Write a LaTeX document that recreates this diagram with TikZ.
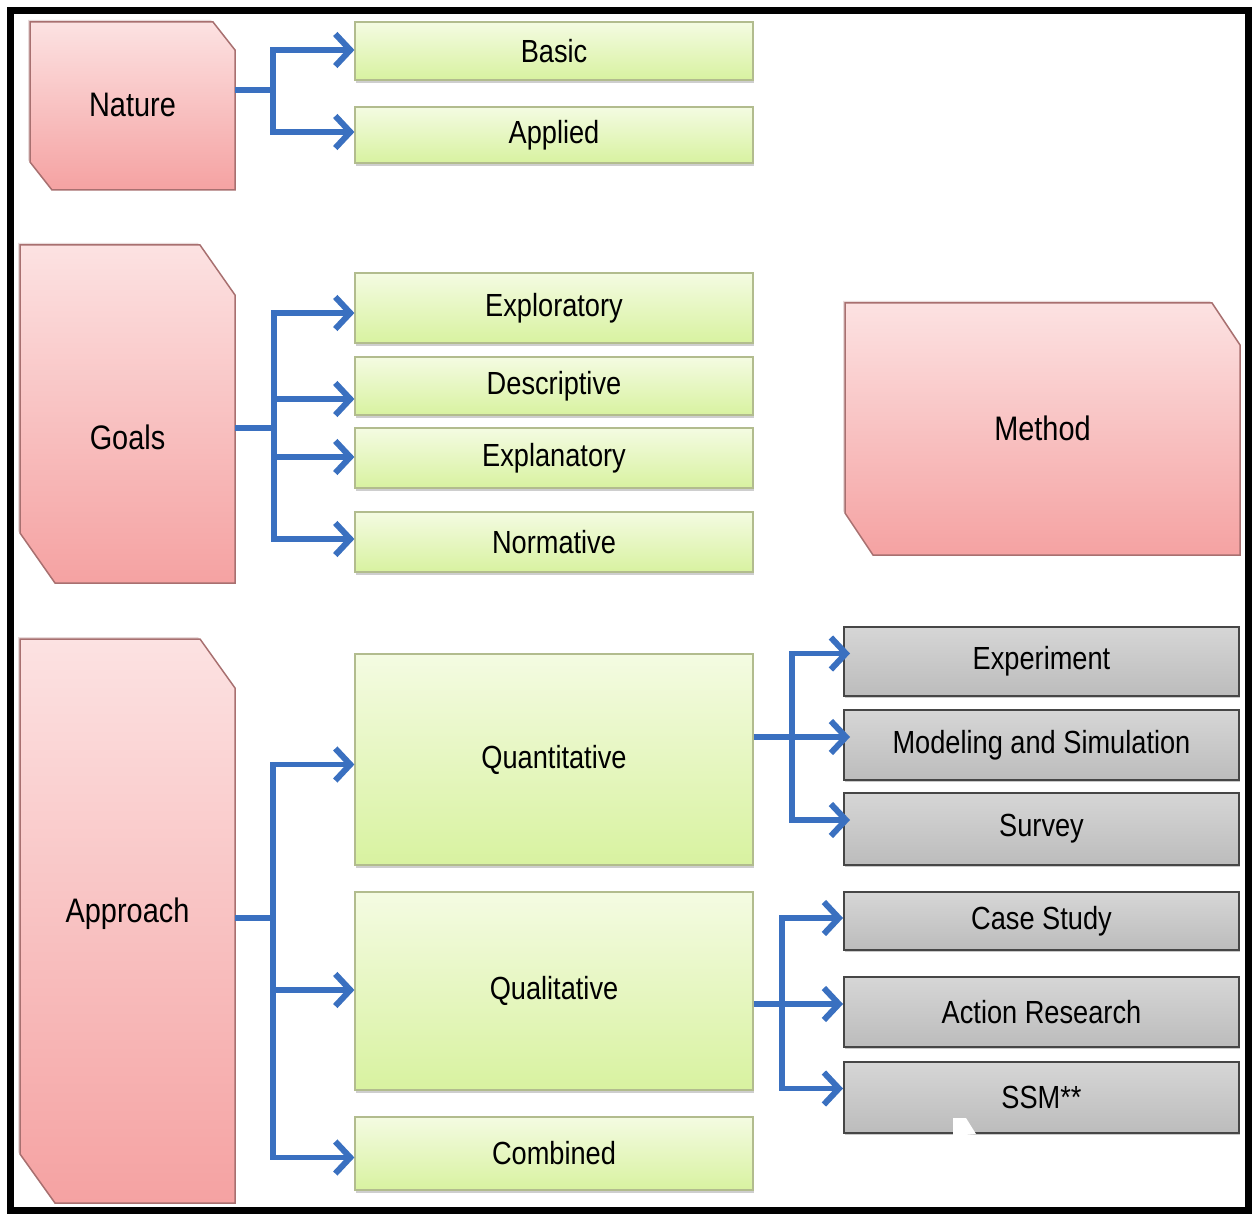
\documentclass[tikz,border=0pt]{standalone}
\usepackage{fontspec}
\setmainfont{Liberation Sans}[FakeStretch=0.85]
\usetikzlibrary{arrows.meta,shadows}

\definecolor{linkblue}{RGB}{58,112,192}
\definecolor{redtop}{RGB}{252,226,226}
\definecolor{redbot}{RGB}{245,162,162}
\definecolor{redline}{RGB}{168,112,112}
\definecolor{greentop}{RGB}{244,251,226}
\definecolor{greenbot}{RGB}{216,242,160}
\definecolor{greenline}{RGB}{178,188,142}
\definecolor{greytop}{RGB}{214,214,214}
\definecolor{greybot}{RGB}{188,188,188}
\definecolor{greyline}{RGB}{70,70,70}

\tikzset{
  redbox/.style={top color=redtop, bottom color=redbot, draw=redline, line width=1.5pt,
    drop shadow={shadow xshift=-2pt, shadow yshift=2pt, opacity=0.25, fill=redline}},
  redlabel/.style={inner sep=0pt, minimum height=36pt, font=\fontsize{34}{40}\selectfont},
  leaf/.style={draw=greenline, line width=1.2pt, top color=greentop, bottom color=greenbot,
    minimum width=398pt, inner sep=0pt, font=\fontsize{32}{38}\selectfont,
    drop shadow={shadow xshift=1pt, shadow yshift=-3pt, opacity=0.35, fill=black!55}},
  method/.style={draw=greyline, line width=2pt, top color=greytop, bottom color=greybot,
    minimum width=395pt, inner sep=0pt, font=\fontsize{32}{38}\selectfont,
    drop shadow={shadow xshift=1pt, shadow yshift=-2pt, opacity=0.35, fill=black!60}},
  link/.style={draw=linkblue, line width=5.5pt},
  arrowlink/.style={link, -{Straight Barb[length=15pt, width=32pt, line width=6pt]}},
}

% chamfered category box: name, x1, y1, x2, y2, chamfer x, chamfer y, label y, label
\newcommand\chambox[9]{%
  \path[redbox] (#2,#3) -- ({#4-#6},#3) -- (#4,{#3+#7}) -- (#4,#5)
    -- ({#2+#6},#5) -- (#2,{#5-#7}) -- cycle;
  \node[redlabel, minimum width={(#4-#2)*1pt}] (#1) at ({(#2+#4)/2},#8) {#9};
}

\begin{document}
\begin{tikzpicture}[x=1pt, y=-1pt]
\useasboundingbox (0,0) rectangle (1255,1214);
\fill[white] (0,0) rectangle (1255,1214);

% category boxes
\chambox{nature}{30}{22}{235}{190}{22}{28}{105}{Nature}
\chambox{goals}{20}{245}{235}{583}{35}{50}{437}{Goals}
\chambox{approach}{20}{639}{235}{1203}{35}{49}{914}{Approach}
\chambox{methodbox}{845}{303}{1240}{555}{28}{42}{428}{Method}

% green options
\node[leaf, minimum height=58pt] (basic) at (554,51) {Basic};
\node[leaf, minimum height=56pt] (applied) at (554,135) {Applied};
\node[leaf, minimum height=70pt] (exploratory) at (554,308) {Exploratory};
\node[leaf, minimum height=58pt] (descriptive) at (554,386) {Descriptive};
\node[leaf, minimum height=60pt] (explanatory) at (554,458) {Explanatory};
\node[leaf, minimum height=60pt] (normative) at (554,542) {Normative};
\node[leaf, minimum height=211pt] (quant) at (554,759.5) {Quantitative};
\node[leaf, minimum height=198pt] (qual) at (554,991) {Qualitative};
\node[leaf, minimum height=73pt] (combined) at (554,1153.5) {Combined};

% grey methods
\node[method, minimum height=69pt] (experiment) at (1041.5,661.5) {Experiment};
\node[method, minimum height=70pt] (modeling) at (1041.5,745) {Modeling and Simulation};
\node[method, minimum height=72pt] (survey) at (1041.5,829) {Survey};
\node[method, minimum height=58pt] (casestudy) at (1041.5,921) {Case Study};
\node[method, minimum height=70pt] (action) at (1041.5,1012) {Action Research};
\node[method, minimum height=71pt] (ssm) at (1041.5,1097.5) {SSM**};
\fill[white] (953,1118) -- (966,1118) -- (976,1134) -- (953,1136) -- cycle;

% branch points
\coordinate (jn) at (273,90);
\coordinate (jg) at (274,428);
\coordinate (ja) at (273,918);
\coordinate (jq) at (792,737);
\coordinate (jl) at (782,1004);

% Nature
\draw[link] (nature.east |- jn) -- (jn);
\draw[arrowlink] (jn) |- ([yshift=1pt]basic.west);
\draw[arrowlink] (jn) |- ([yshift=3pt]applied.west);

% Goals
\draw[link] (goals.east |- jg) -- (jg);
\draw[arrowlink] (jg) |- ([yshift=-5pt]exploratory.west);
\draw[arrowlink] (jg) |- ([yshift=-13pt]descriptive.west);
\draw[arrowlink] (jg) |- ([yshift=1pt]explanatory.west);
\draw[arrowlink] (jg) |- ([yshift=3pt]normative.west);

% Approach
\draw[link] (approach.east |- ja) -- (ja);
\draw[arrowlink] (ja) |- ([yshift=-5pt]quant.west);
\draw[arrowlink] (ja) |- ([yshift=1pt]qual.west);
\draw[arrowlink] (ja) |- ([yshift=-4pt]combined.west);

% Quantitative
\draw[link] (quant.east |- jq) -- (jq);
\draw[arrowlink, shorten >=-7pt] (jq) |- ([yshift=8pt]experiment.west);
\draw[arrowlink, shorten >=-7pt] (jq) -- (modeling.west |- jq);
\draw[arrowlink, shorten >=-7pt] (jq) |- ([yshift=9pt]survey.west);

% Qualitative
\draw[link] (qual.east |- jl) -- (jl);
\draw[arrowlink] (jl) |- ([yshift=3pt]casestudy.west);
\draw[arrowlink] (jl) -- (action.west |- jl);
\draw[arrowlink] (jl) |- ([yshift=9pt]ssm.west);

% frame
\draw[line width=7pt] (10.5,10.5) rectangle (1248.5,1210.5);
\end{tikzpicture}
\end{document}
